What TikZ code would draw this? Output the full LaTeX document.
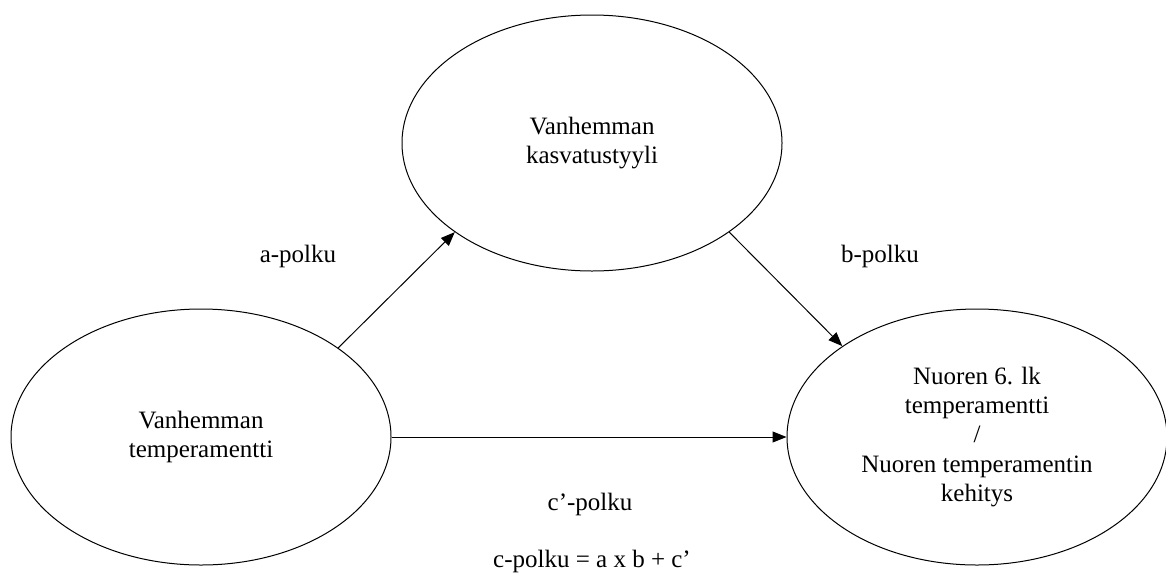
\documentclass[tikz,border=0pt]{standalone}
\usepackage{fontspec}
\setmainfont{Liberation Serif}
\usetikzlibrary{shapes.geometric,arrows.meta}
\newlength{\muuttujawidth}
\setlength{\muuttujawidth}{190pt}

\begin{document}
\begin{tikzpicture}[x=0.5pt, y=-0.5pt,
    font=\fontsize{12.5}{14.6}\selectfont,
    muuttuja/.style={draw, ellipse, line width=0.5pt, minimum width=\muuttujawidth,
        minimum height=128pt, inner sep=0pt, align=center},
    polku/.style={-{Triangle[length=7pt,width=5.5pt]}, line width=0.5pt}]
    \useasboundingbox (0,0) rectangle (1166,574);

    \node[muuttuja] (vt) at (201,437) {Vanhemman\\temperamentti};
    \node[muuttuja] (ks) at (592,143) {Vanhemman\\kasvatustyyli};
    \node[muuttuja] (nt) at (977,437) {Nuoren 6. lk\\temperamentti\\/\\Nuoren temperamentin\\kehitys};

    \node[anchor=base] (apolku) at (298,262) {a-polku};
    \node[anchor=base] (bpolku) at (880,262) {b-polku};
    \node[anchor=base] (cpolku) at (590,510) {c’-polku};
    \node[anchor=base] (kaava) at (592,567) {c-polku = a x b + c’};

    \draw[polku] (vt.33.5) -- (ks.213.5);
    \draw[polku] (ks.-33.5) -- (nt.146);
    \draw[polku] (vt) -- (nt);
\end{tikzpicture}
\end{document}
